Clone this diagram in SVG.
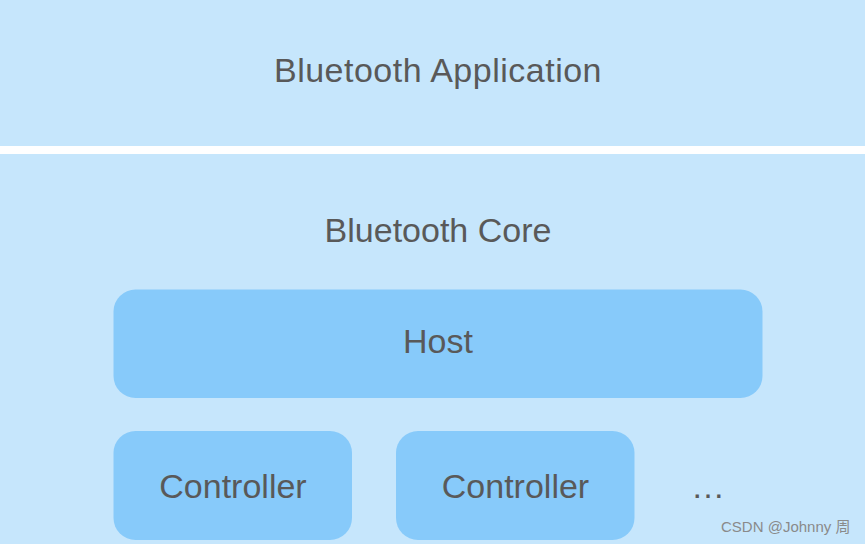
<svg xmlns="http://www.w3.org/2000/svg" width="865" height="544" viewBox="0 0 865 544">
<style>
.band{fill:#C6E6FC}
.box{fill:#87CAFA}
.t{font-family:"Liberation Sans",Arial,sans-serif;font-size:34px;fill:#595959;text-anchor:middle}
.wm{font-family:"Liberation Sans","Noto Sans CJK SC",sans-serif;font-size:15px;fill:#8a8a8a;text-anchor:start}
</style>
<rect width="865" height="544" fill="#ffffff"/>
<g id="application">
<rect class="band" x="0" y="0" width="865" height="146"/>
<text class="t" x="438" y="82" letter-spacing="0.5">Bluetooth Application</text>
</g>
<g id="core">
<rect class="band" x="0" y="154" width="865" height="390"/>
<text class="t" x="438" y="242">Bluetooth Core</text>
</g>
<g id="host">
<rect class="box" x="113.5" y="289.5" width="649" height="108.5" rx="22"/>
<text class="t" x="438" y="353">Host</text>
</g>
<g id="controller1">
<rect class="box" x="113.5" y="431" width="238.5" height="109" rx="22"/>
<text class="t" x="233" y="498">Controller</text>
</g>
<g id="controller2">
<rect class="box" x="396" y="431" width="238.5" height="109" rx="22"/>
<text class="t" x="515.5" y="498">Controller</text>
</g>
<g id="ellipsis">
<text class="t" x="708" y="498">…</text>
</g>
<g id="connectors"></g>
<text class="wm" x="721" y="532">CSDN @Johnny 周</text>
</svg>
